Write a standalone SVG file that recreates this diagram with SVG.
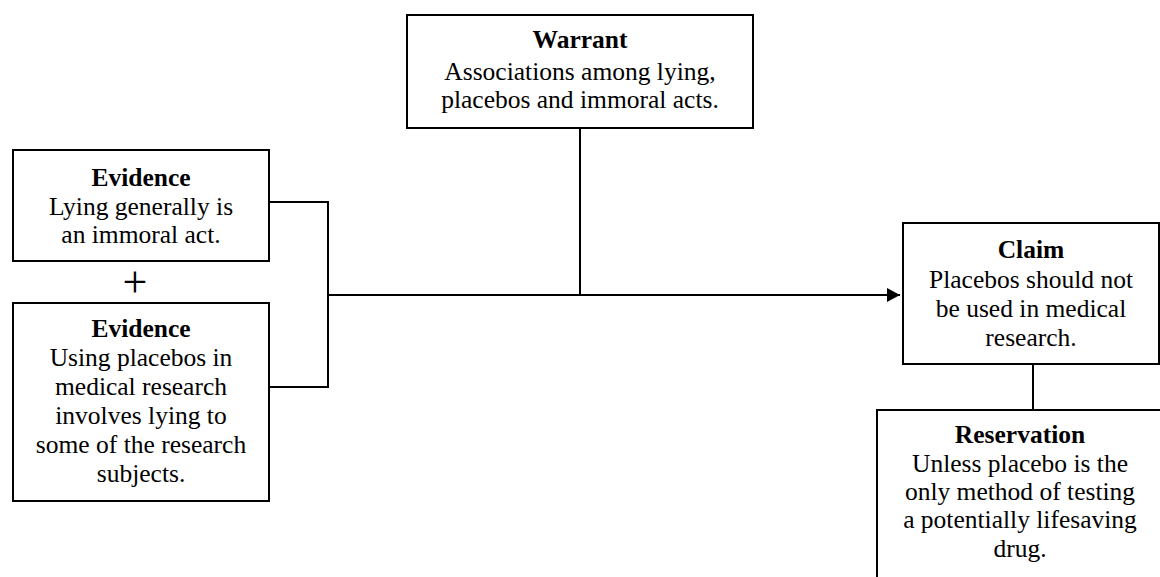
<svg xmlns="http://www.w3.org/2000/svg" width="1160" height="577" viewBox="0 0 1160 577">
<style>
.box{fill:#fff;stroke:#000;stroke-width:2}
.t{font-family:"Liberation Serif","Times New Roman",serif;font-size:25.5px;fill:#000;text-anchor:middle}
.h{font-weight:bold}
.c{fill:none;stroke:#000;stroke-width:2}
</style>
<defs>
<marker id="arr" markerWidth="14" markerHeight="14" refX="13" refY="7" orient="auto" markerUnits="userSpaceOnUse">
<path d="M0,0 L13,7 L0,14 Z" fill="#000"/>
</marker>
</defs>
<rect width="1160" height="577" fill="#fff"/>
<g id="connectors">
<polyline class="c" points="269,202 328,202 328,387 269,387"/>
<line class="c" x1="328" y1="295" x2="900" y2="295" marker-end="url(#arr)"/>
<line class="c" x1="580" y1="128" x2="580" y2="295"/>
<line class="c" x1="1033" y1="364" x2="1033" y2="410"/>
</g>
<g id="warrant">
<rect class="box" x="407" y="15" width="346" height="113"/>
<text class="t h" x="580" y="48">Warrant</text>
<text class="t" x="580" y="80">Associations among lying,</text>
<text class="t" x="580" y="108">placebos and immoral acts.</text>
</g>
<g id="evidence1">
<rect class="box" x="13" y="150" width="256" height="111"/>
<text class="t h" x="141" y="186">Evidence</text>
<text class="t" x="141" y="215">Lying generally is</text>
<text class="t" x="141" y="243">an immoral act.</text>
</g>
<g id="plus">
<text class="t" x="135" y="297" style="font-size:44px">+</text>
</g>
<g id="evidence2">
<rect class="box" x="13" y="303" width="256" height="198"/>
<text class="t h" x="141" y="337">Evidence</text>
<text class="t" x="141" y="366">Using placebos in</text>
<text class="t" x="141" y="395">medical research</text>
<text class="t" x="141" y="424">involves lying to</text>
<text class="t" x="141" y="453">some of the research</text>
<text class="t" x="141" y="482">subjects.</text>
</g>
<g id="claim">
<rect class="box" x="903" y="223" width="256" height="141"/>
<text class="t h" x="1031" y="258">Claim</text>
<text class="t" x="1031" y="288">Placebos should not</text>
<text class="t" x="1031" y="317">be used in medical</text>
<text class="t" x="1031" y="346">research.</text>
</g>
<g id="reservation">
<rect class="box" x="877" y="410" width="290" height="180"/>
<text class="t h" x="1020" y="443">Reservation</text>
<text class="t" x="1020" y="472">Unless placebo is the</text>
<text class="t" x="1020" y="500">only method of testing</text>
<text class="t" x="1020" y="528">a potentially lifesaving</text>
<text class="t" x="1020" y="557">drug.</text>
</g>
</svg>
